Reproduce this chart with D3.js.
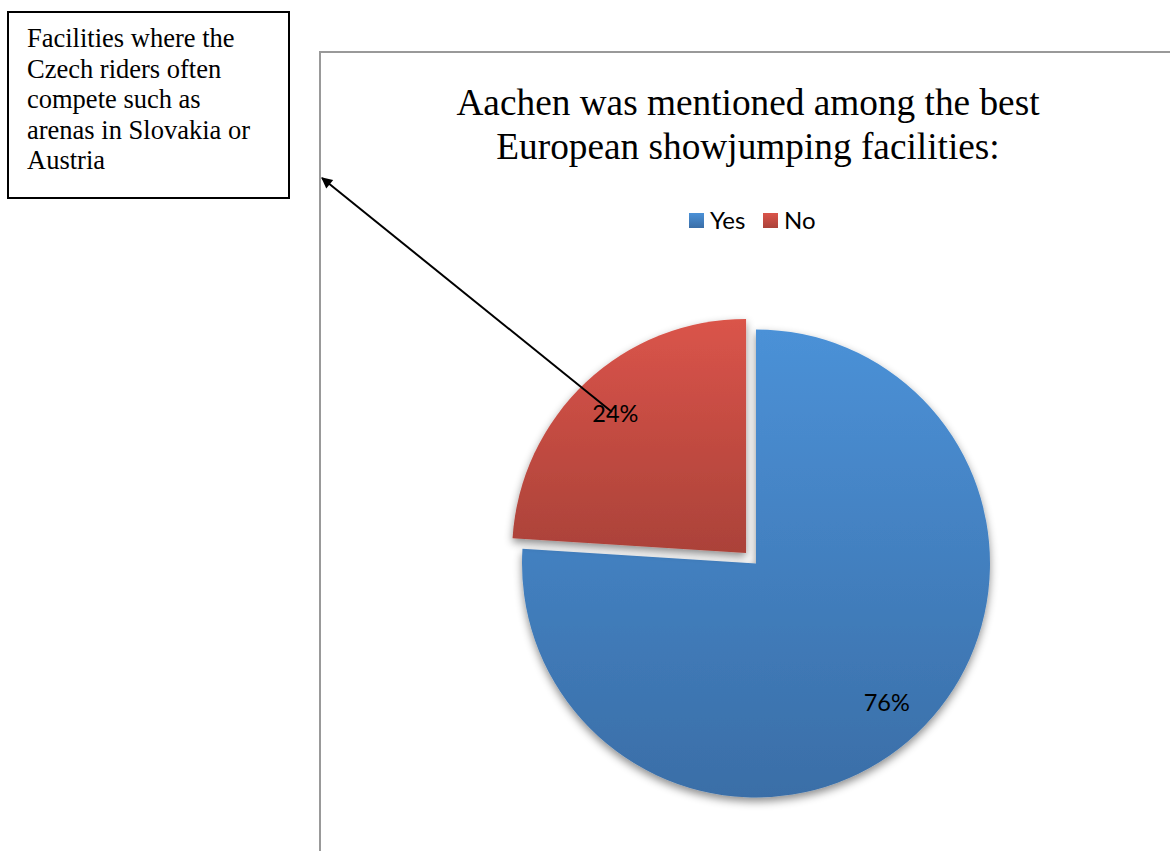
<!DOCTYPE html>
<html><head><meta charset="utf-8">
<script src="https://cdn.jsdelivr.net/npm/d3@7/dist/d3.min.js"></script>
<style>body{margin:0;background:#fff;} svg{display:block;}</style>
</head><body>
<svg id="c" width="1170" height="851"></svg>
<script>
const categories = ["Yes", "No"];
const values = [76, 24];
const labels = ["76%", "24%"];
const titleLines = ["Aachen was mentioned among the best", "European showjumping facilities:"];
const noteLines = ["Facilities where the", "Czech riders often", "compete such as", "arenas in Slovakia or", "Austria"];
const colorsTop = ["#4b91d7", "#da544a"];
const colorsBottom = ["#3a6ea7", "#ab4239"];

const svg = d3.select("#c");
const defs = svg.append("defs");
categories.forEach((c, i) => {
  const g = defs.append("linearGradient").attr("id", "g" + i).attr("x1", 0).attr("y1", 0).attr("x2", 0).attr("y2", 1);
  g.append("stop").attr("offset", 0).attr("stop-color", colorsTop[i]);
  g.append("stop").attr("offset", 1).attr("stop-color", colorsBottom[i]);
});
const f = defs.append("filter").attr("id", "sh").attr("x", "-20%").attr("y", "-20%").attr("width", "140%").attr("height", "140%");
f.append("feDropShadow").attr("dx", 0).attr("dy", 4).attr("stdDeviation", 4).attr("flood-color", "#000").attr("flood-opacity", 0.45);
const m = defs.append("marker").attr("id", "ah").attr("viewBox", "0 0 10 10").attr("refX", 9).attr("refY", 5)
  .attr("markerWidth", 13).attr("markerHeight", 11).attr("orient", "auto-start-reverse").attr("markerUnits", "userSpaceOnUse");
m.append("path").attr("d", "M0,0 L10,5 L0,10 z").attr("fill", "#000");

// chart frame
svg.append("path").attr("d", "M320,851 L320,52 L1172,52").attr("fill", "none").attr("stroke", "#999").attr("stroke-width", 2);

// title
const t = svg.append("text").attr("text-anchor", "middle").attr("font-family", "Liberation Serif, Times New Roman, serif")
  .attr("font-size", 37.3).attr("fill", "#000");
titleLines.forEach((l, i) => t.append("tspan").attr("x", 748).attr("y", 115 + i * 44).text(l));

// legend
const leg = svg.append("g").attr("font-family", "Lato, Carlito, sans-serif").attr("font-size", 24);
const legX = [689, 763];
categories.forEach((c, i) => {
  leg.append("rect").attr("x", legX[i]).attr("y", 213).attr("width", 15).attr("height", 15).attr("fill", `url(#g${i})`);
  leg.append("text").attr("x", legX[i] + 21).attr("y", 229).text(c).attr("fill", "#000");
});

// pie
const cx = 756, cy = 563.5, R = 234, explode = 14.5;
const pie = d3.pie().sort(null).value(d => d)(values);
const arc = d3.arc().innerRadius(0).outerRadius(R);
const labelArc = d3.arc().innerRadius(191).outerRadius(191);
const pg = svg.append("g").attr("transform", `translate(${cx},${cy})`);
const off = (d, i) => {
  if (i !== 1) return [0, 0];
  const a = (d.startAngle + d.endAngle) / 2;
  return [Math.sin(a) * explode, -Math.cos(a) * explode];
};
pie.forEach((d, i) => {
  const [ox, oy] = off(d, i);
  const g = pg.append("g").attr("transform", `translate(${ox},${oy})`);
  g.append("path").attr("d", arc(d)).attr("fill", `url(#g${i})`).attr("filter", "url(#sh)");
});
pie.forEach((d, i) => {
  const [ox, oy] = off(d, i);
  const c = labelArc.centroid(d);
  pg.append("text").attr("x", c[0] + ox).attr("y", c[1] + oy).attr("dy", "0.35em").attr("text-anchor", "middle")
    .attr("font-family", "Lato, Carlito, sans-serif").attr("font-size", 23.5).attr("fill", "#000").text(labels[i]);
});

// note box
svg.append("rect").attr("x", 8).attr("y", 12).attr("width", 281).attr("height", 186).attr("fill", "#fff").attr("stroke", "#000").attr("stroke-width", 2);
const nt = svg.append("text").attr("font-family", "Liberation Serif, Times New Roman, serif").attr("font-size", 26.5).attr("fill", "#000");
noteLines.forEach((l, i) => nt.append("tspan").attr("x", 27).attr("y", 47 + i * 30.5).text(l));

// arrow
svg.append("line").attr("x1", 612).attr("y1", 412).attr("x2", 322).attr("y2", 178)
  .attr("stroke", "#000").attr("stroke-width", 2).attr("marker-end", "url(#ah)");
</script>
</body></html>
